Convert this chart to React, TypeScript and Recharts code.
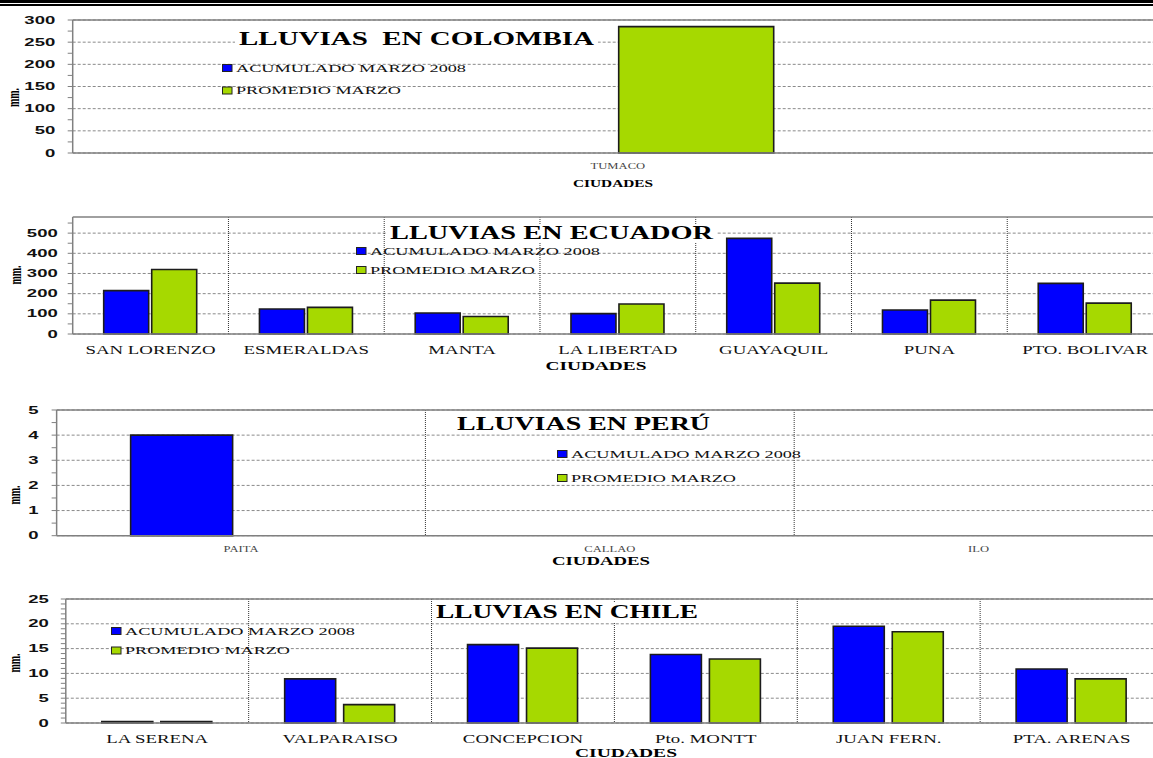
import React from 'react';
import { BarChart, Bar, XAxis, YAxis, CartesianGrid, Legend, ReferenceLine } from 'recharts';

const SERIES_ACUM = 'ACUMULADO MARZO 2008';
const SERIES_PROM = 'PROMEDIO MARZO';
const AXIS_X_TITLE = 'CIUDADES';
const AXIS_Y_TITLE = 'mm.';

// Colombia
const COLOMBIA_CITIES = ['TUMACO'];
const COLOMBIA_ACUM = [0];
const COLOMBIA_PROM = [285];
const COLOMBIA_MAJOR = [0, 50, 100, 150, 200, 250, 300];
const COLOMBIA_MINOR = [25, 75, 125, 175, 225, 275];

// Ecuador
const ECUADOR_CITIES = ['SAN LORENZO', 'ESMERALDAS', 'MANTA', 'LA LIBERTAD', 'GUAYAQUIL', 'PUNA', 'PTO. BOLIVAR'];
const ECUADOR_ACUM = [215, 124, 104, 101, 474, 119, 251];
const ECUADOR_PROM = [320, 132, 87, 149, 252, 168, 153];
const ECUADOR_MAJOR = [0, 100, 200, 300, 400, 500];
const ECUADOR_MINOR = [50, 150, 250, 350, 450, 550];

// Peru
const PERU_CITIES = ['PAITA', 'CALLAO', 'ILO'];
const PERU_ACUM = [4, 0, 0];
const PERU_PROM = [0, 0, 0];
const PERU_MAJOR = [0, 1, 2, 3, 4, 5];
const PERU_MINOR = [0.5, 1.5, 2.5, 3.5, 4.5];

// Chile
const CHILE_CITIES = ['LA SERENA', 'VALPARAISO', 'CONCEPCION', 'Pto. MONTT', 'JUAN FERN.', 'PTA. ARENAS'];
const CHILE_ACUM = [0.3, 8.9, 15.8, 13.8, 19.5, 10.9];
const CHILE_PROM = [0.3, 3.7, 15.1, 12.9, 18.4, 8.9];
const CHILE_MAJOR = [0, 5, 10, 15, 20, 25];
const CHILE_MINOR = [1, 2, 3, 4, 6, 7, 8, 9, 11, 12, 13, 14, 16, 17, 18, 19, 21, 22, 23, 24];

const BLUE = '#0000FF';
const GREEN = '#A6D900';
const FRAME = '#808080';
const SERIF = '"Liberation Serif", "Times New Roman", serif';
const SANS = '"Liberation Sans", Arial, sans-serif';
const CHART_W = 1170;
const PLOT_RIGHT = 1163;
const LEGEND_W = [230, 165];

const rows = (cities: string[], acum: number[], prom: number[]) =>
  cities.map((city, i) => ({ city, acum: acum[i], prom: prom[i] }));

const panels = [
  {
    key: 'col', title: 'LLUVIAS  EN COLOMBIA', data: rows(COLOMBIA_CITIES, COLOMBIA_ACUM, COLOMBIA_PROM),
    yMax: 300, major: COLOMBIA_MAJOR, minor: COLOMBIA_MINOR,
    top: 19.5, bottom: 152.5, left: 72.7, yTickMargin: 12.5,
    barSize: 155, barGap: 2,
    xFont: 9, xScale: 1.4, xColor: '#444', xOffset: 13,
    legendX: 222, legendY: 68, legendGap: 22.5,
    titleX: 239, titleY: 45, titleW: 355,
    axX: 613, axY: 187, axW: 80, axFont: 10,
    mmX: 15.5, mmY: 97.5,
  },
  {
    key: 'ecu', title: 'LLUVIAS EN ECUADOR', data: rows(ECUADOR_CITIES, ECUADOR_ACUM, ECUADOR_PROM),
    yMax: 580, major: ECUADOR_MAJOR, minor: ECUADOR_MINOR,
    top: 217.3, bottom: 334.3, left: 72.7, yTickMargin: 10,
    barSize: 45, barGap: 3,
    xFont: 12, xScale: 1.57, xColor: '#111', xOffset: 15.7,
    legendX: 356, legendY: 251, legendGap: 19,
    titleX: 390, titleY: 239, titleW: 323,
    axX: 596, axY: 370, axW: 101, axFont: 12,
    mmX: 17, mmY: 275,
  },
  {
    key: 'per', title: 'LLUVIAS EN PERÚ', data: rows(PERU_CITIES, PERU_ACUM, PERU_PROM),
    yMax: 5, major: PERU_MAJOR, minor: PERU_MINOR,
    top: 410, bottom: 535.7, left: 56.6, yTickMargin: 13,
    barSize: 102, barGap: 16,
    xFont: 9, xScale: 1.4, xColor: '#444', xOffset: 13.6,
    legendX: 557, legendY: 453.5, legendGap: 24,
    titleX: 457, titleY: 430, titleW: 253,
    axX: 601, axY: 564.5, axW: 98, axFont: 12,
    mmX: 16, mmY: 495,
  },
  {
    key: 'chi', title: 'LLUVIAS EN CHILE', data: rows(CHILE_CITIES, CHILE_ACUM, CHILE_PROM),
    yMax: 25, major: CHILE_MAJOR, minor: CHILE_MINOR,
    top: 599.3, bottom: 723.3, left: 65.8, yTickMargin: 12,
    barSize: 51, barGap: 8,
    xFont: 12, xScale: 1.57, xColor: '#111', xOffset: 16,
    legendX: 111, legendY: 631, legendGap: 19.5,
    titleX: 436, titleY: 618, titleW: 262,
    axX: 626, axY: 756.5, axW: 102, axFont: 12,
    mmX: 16, mmY: 663,
  },
];

const LegendBox = ({ payload, gap }: any) => (
  <svg width={260} height={gap + 14} style={{ display: 'block' }}>
    {(payload || []).map((p: any, i: number) => {
      const cy = 7 + i * gap;
      const color = (p.payload && p.payload.fill) || p.color;
      return (
        <g key={i}>
          <rect x={0.5} y={cy - 3.5} width={9.5} height={7} fill={color} stroke="#222" strokeWidth={1} />
          <text x={14} y={cy + 3.8} fontSize={11} fill="#111" style={{ fontFamily: SERIF }}
            textLength={LEGEND_W[i]} lengthAdjust="spacingAndGlyphs">{p.value}</text>
        </g>
      );
    })}
  </svg>
);

function Panel({ cfg }: { cfg: any }) {
  const chartTop = cfg.top - 6;
  const plotH = cfg.bottom - cfg.top;
  const allTicks = [...cfg.major, ...cfg.minor].sort((a, b) => a - b);
  const n = cfg.data.length;

  const yTick = (p: any) => {
    const v = p.payload.value;
    if (!cfg.major.includes(v)) return <g />;
    return (
      <g transform={`translate(${p.x},${p.y})`}>
        <text transform="scale(1.85,1)" textAnchor="end" y={3.6} fontWeight="bold"
          fontSize={10} fill="#111" style={{ fontFamily: SANS }}>{v}</text>
      </g>
    );
  };

  const xTick = (p: any) => (
    <g transform={`translate(${p.x},${p.y})`}>
      <text transform={`scale(${cfg.xScale},1)`} textAnchor="middle" y={cfg.xOffset + cfg.xFont * 0.33}
        fontSize={cfg.xFont} fill={cfg.xColor} style={{ fontFamily: SERIF }}>{p.payload.value}</text>
    </g>
  );

  const boundaries = ({ offset }: any) => {
    const out: number[] = [];
    for (let i = 1; i < n; i++) out.push(offset.left + (offset.width * i) / n);
    return out;
  };

  return (
    <div style={{ position: 'absolute', left: 0, top: chartTop }}>
      <BarChart
        width={CHART_W}
        height={6 + plotH + 40}
        data={cfg.data}
        barSize={cfg.barSize}
        barGap={cfg.barGap}
        margin={{ top: 6, right: CHART_W - PLOT_RIGHT, bottom: 0, left: 0 }}
      >
        <CartesianGrid vertical={false} horizontalValues={cfg.major} stroke="#8a8a8a" strokeDasharray="3 2" />
        {n > 1 && (
          <CartesianGrid horizontal={false} verticalCoordinatesGenerator={boundaries} stroke="#333" strokeDasharray="1 1" />
        )}
        <XAxis dataKey="city" type="category" interval={0} tickSize={0} tickMargin={0} height={40}
          axisLine={{ stroke: FRAME, strokeWidth: 1.5 }} tickLine={false} tick={xTick} />
        <YAxis type="number" domain={[0, cfg.yMax]} ticks={allTicks} interval={0} width={cfg.left}
          tickSize={5} tickMargin={cfg.yTickMargin} axisLine={{ stroke: FRAME, strokeWidth: 1.5 }}
          tickLine={{ stroke: FRAME }} tick={yTick} allowDecimals />
        <ReferenceLine y={cfg.yMax} stroke={FRAME} strokeWidth={1.5} />
        <Legend layout="horizontal" verticalAlign="middle" align="center"
          content={<LegendBox gap={cfg.legendGap} />}
          wrapperStyle={{ left: cfg.legendX, top: cfg.legendY - chartTop - 7, width: 260, height: cfg.legendGap + 14 }} />
        <Bar dataKey="acum" name={SERIES_ACUM} fill={BLUE} stroke="#1c1c1c" strokeWidth={1.6} isAnimationActive={false} />
        <Bar dataKey="prom" name={SERIES_PROM} fill={GREEN} stroke="#1c1c1c" strokeWidth={1.6} isAnimationActive={false} />
      </BarChart>
    </div>
  );
}

function Overlay() {
  return (
    <svg width={1153} height={758} style={{ position: 'absolute', left: 0, top: 0, pointerEvents: 'none' }}>
      {panels.map((cfg) => (
        <g key={cfg.key}>
          <rect x={cfg.titleX - 4} y={cfg.titleY - 15} width={cfg.titleW + 8} height={19} fill="#fff" />
          <text x={cfg.titleX} y={cfg.titleY} fontWeight="bold" fontSize={18} fill="#000"
            textLength={cfg.titleW} lengthAdjust="spacingAndGlyphs" style={{ whiteSpace: 'pre', fontFamily: SERIF }}>{cfg.title}</text>
          <text x={cfg.axX - cfg.axW / 2} y={cfg.axY} fontWeight="bold" fontSize={cfg.axFont}
            fill="#000" textLength={cfg.axW} lengthAdjust="spacingAndGlyphs" style={{ fontFamily: SERIF }}>{AXIS_X_TITLE}</text>
          <text transform={`translate(${cfg.mmX},${cfg.mmY}) rotate(-90) scale(1,1.6)`} textAnchor="middle" y={2.3}
            fontWeight="bold" fontSize={10} fill="#000" style={{ fontFamily: SERIF }}>{AXIS_Y_TITLE}</text>
        </g>
      ))}
    </svg>
  );
}

export default function App() {
  return (
    <div style={{ position: 'absolute', left: 0, top: 0, width: 1153, height: 758, overflow: 'hidden', background: '#fff' }}>
      <div style={{ position: 'absolute', left: 0, top: 0, width: 1153, height: 3, background: '#000' }} />
      <div style={{ position: 'absolute', left: 0, top: 4, width: 1153, height: 1.5, background: '#000' }} />
      {panels.map((cfg) => (
        <Panel key={cfg.key} cfg={cfg} />
      ))}
      <Overlay />
    </div>
  );
}
